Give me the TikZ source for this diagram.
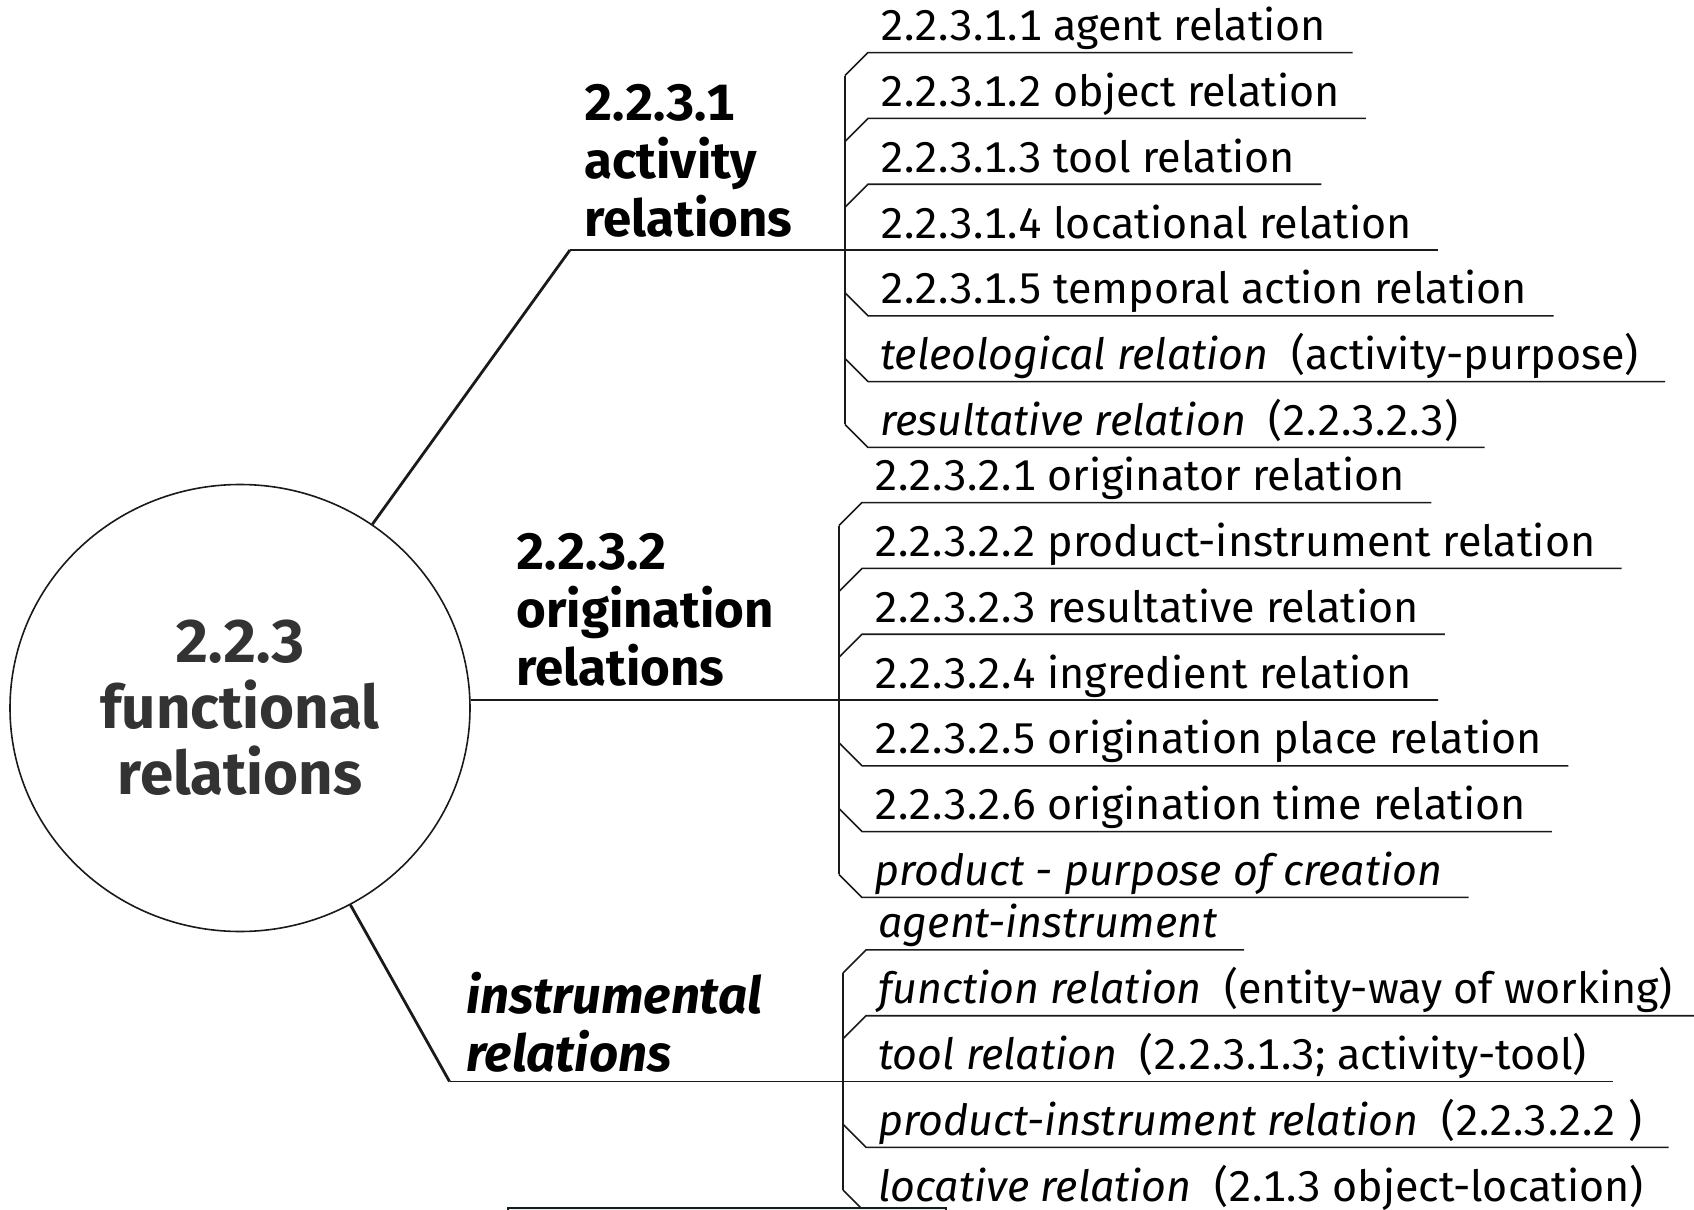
\documentclass[tikz,border=0pt]{standalone}
\usepackage{fontspec}
\setmainfont{Fira Sans}[Numbers=Monospaced]
\usetikzlibrary{shapes.geometric,calc,positioning}
\definecolor{hubText}{HTML}{333333}
\definecolor{lineGray}{HTML}{1A1A1A}
\definecolor{boxFill}{HTML}{DFF3F4}

\begin{document}
\begin{tikzpicture}[x=0.5pt, y=-0.5pt,
    hub/.style={ellipse, draw=lineGray, line width=0.8pt, minimum width=230pt, minimum height=223.5pt, inner sep=0pt, align=center, text=hubText, font=\fontsize{30}{33}\selectfont\bfseries},
    head/.style={anchor=north west, inner sep=0pt, align=left, font=\fontsize{25.5}{29}\selectfont\bfseries},
    leaf/.style={anchor=base west, inner sep=0pt, font=\fontsize{21.5}{26}\selectfont},
    stem/.style={draw=lineGray, line width=1.4pt},
    twig/.style={draw=lineGray, line width=0.8pt}
  ]
  \useasboundingbox (0,0) rectangle (1694,1210);

  % centre
  \node[hub] (hub) at (240,708) {2.2.3\\functional\\relations};

  % branch headings
  \node[head] (act) at (584,84) {2.2.3.1\\activity\\relations};
  \node[head] (orig) at (516,533) {2.2.3.2\\origination\\relations};
  \node[head, font=\fontsize{25.5}{29}\selectfont\bfseries\itshape] (instr) at (466,972) {instrumental\\relations};

  % activity relations
  \foreach \i/\txt in {1/2.2.3.1.1 agent relation, 2/2.2.3.1.2 object relation, 3/2.2.3.1.3 tool relation,
      4/2.2.3.1.4 locational relation, 5/2.2.3.1.5 temporal action relation,
      6/{\textit{teleological relation}\ \ (activity-purpose)}, 7/{\textit{resultative relation}\ \ (2.2.3.2.3)}}
    \node[leaf] (a\i) at (880,{250+(\i-4)*65.8-12}) {\txt};

  % origination relations
  \foreach \i/\txt in {1/2.2.3.2.1 originator relation, 2/2.2.3.2.2 product-instrument relation,
      3/2.2.3.2.3 resultative relation, 4/2.2.3.2.4 ingredient relation,
      5/2.2.3.2.5 origination place relation, 6/2.2.3.2.6 origination time relation,
      7/{\textit{product - purpose of creation}}}
    \node[leaf] (o\i) at (874,{700+(\i-4)*65.8-12}) {\txt};

  % instrumental relations
  \foreach \i/\txt in {1/{\textit{agent-instrument}}, 2/{\textit{function relation}\ \ (entity-way of working)},
      3/{\textit{tool relation}\ \ (2.2.3.1.3; activity-tool)}, 4/{\textit{product-instrument relation}\ \ (2.2.3.2.2 )},
      5/{\textit{locative relation}\ \ (2.1.3 object-location)}}
    \node[leaf] (n\i) at (878,{1081.5+(\i-3)*65.8-12}) {\txt};

  % stems from the hub
  \coordinate (actknee) at (570,250);
  \coordinate (insknee) at (449.5,1081.5);
  \draw[stem] (hub) -- (actknee);
  \draw[twig] (actknee) -- ($(a4.base east)+(26,12)$);
  \draw[twig] (hub.2) -- ($(o4.base east)+(26,12)$);
  \draw[stem] (hub) -- (insknee);
  \draw[twig] (insknee) -- ($(n3.base east)+(26,12)$);

  % brackets and underlines
  \draw[twig] ($(a1.base west)+(-35,35)$) -- ($(a7.base west)+(-35,-11)$);
  \draw[twig] ($(o1.base west)+(-35,35)$) -- ($(o7.base west)+(-35,-11)$);
  \draw[twig] ($(n1.base west)+(-35,35)$) -- ($(n5.base west)+(-35,-11)$);
  \foreach \l in {a1,a2,a3,o1,o2,o3,n1,n2}
    \draw[twig] ($(\l.base west)+(-35,35)$) -- ($(\l.base west)+(-12,12)$) -- ($(\l.base east)+(26,12)$);
  \foreach \l in {a5,a6,a7,o5,o6,o7,n4,n5}
    \draw[twig] ($(\l.base west)+(-35,-11)$) -- ($(\l.base west)+(-12,12)$) -- ($(\l.base east)+(26,12)$);

  % box cut by the lower edge
  \node[draw=lineGray, line width=0.9pt, fill=boxFill, anchor=north west, minimum width=219pt, minimum height=30pt, inner sep=0pt] (notebox) at (507,1207) {};
\end{tikzpicture}
\end{document}
